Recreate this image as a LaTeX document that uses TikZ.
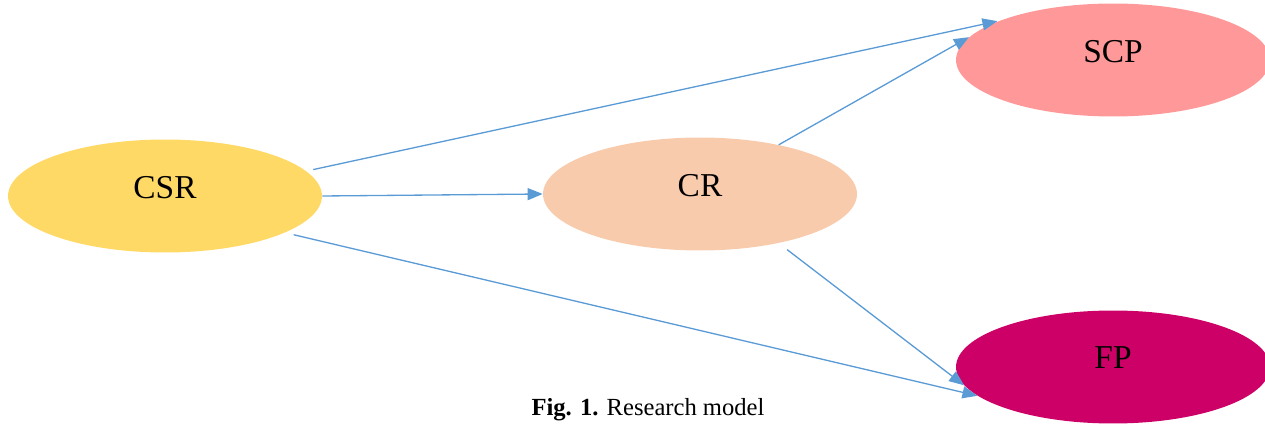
\documentclass[tikz,border=0pt]{standalone}
\usepackage{fontspec}
\setmainfont{Liberation Serif}
\usetikzlibrary{shapes.geometric,arrows.meta}
\definecolor{csrc}{HTML}{FFD966}
\definecolor{crc}{HTML}{F8CBAD}
\definecolor{scpc}{HTML}{FF9999}
\definecolor{fpc}{HTML}{CC0066}
\definecolor{arr}{HTML}{5B9BD5}
\tikzset{
  oval/.style={ellipse, draw=none, inner sep=0pt, minimum width=6.28cm, minimum height=2.26cm,
    font=\fontsize{19}{22}\selectfont, text depth=0.36cm},
  link/.style={draw=arr, line width=0.75pt, -{Triangle[length=0.3cm, width=0.24cm]}}
}
\begin{document}
\begin{tikzpicture}[x=0.02cm, y=-0.02cm]
\useasboundingbox (0,0) rectangle (1265,425);
\node[oval, fill=csrc] (csr) at (165,196) {CSR};
\node[oval, fill=crc]  (cr)  at (700,194) {CR};
\node[oval, fill=scpc] (scp) at (1113,60) {SCP};
\node[oval, fill=fpc]  (fp)  at (1113,367) {FP};
\draw[link, shorten <=4pt, shorten >=1pt] (csr.10) -- (scp.161);
\draw[link] (cr.32) -- (scp.171);
\draw[link] (csr.east) -- (cr.west);
\draw[link, shorten <=6pt] (cr.-32) -- (fp.187);
\draw[link, shorten <=5pt] (csr.-17) -- (fp.192);
\node[font=\fontsize{14}{16}\selectfont] (cap) at (648,410) {\textbf{Fig. 1.} Research model};
\end{tikzpicture}
\end{document}
